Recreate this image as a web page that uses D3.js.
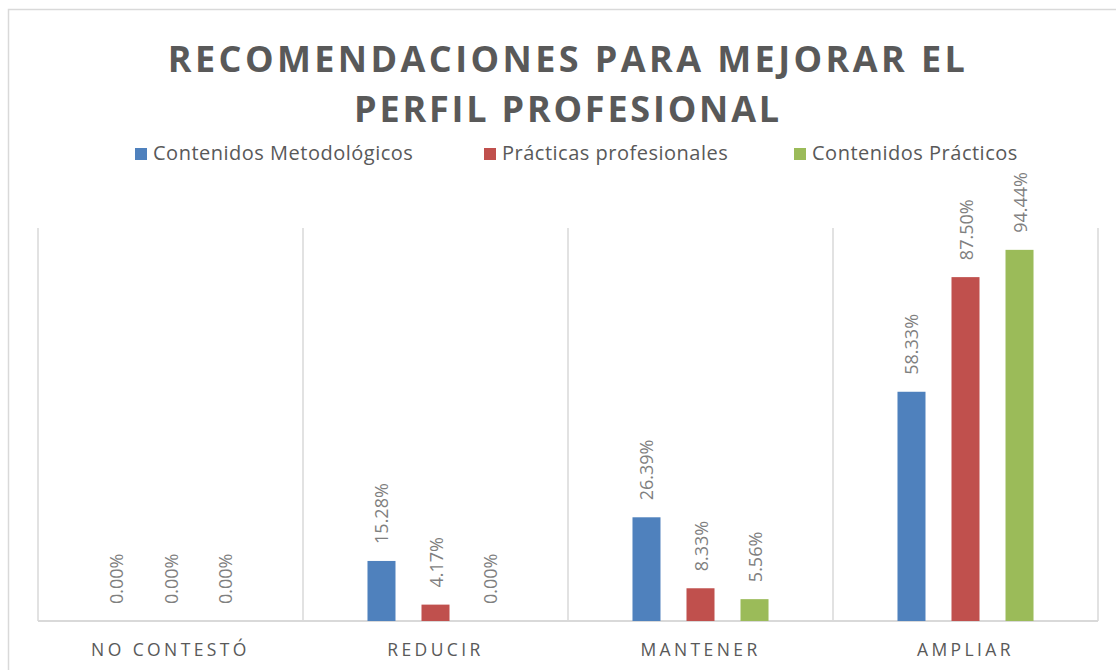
<!DOCTYPE html>
<html>
<head>
<meta charset="utf-8">
<script src="https://cdn.jsdelivr.net/npm/d3@7"></script>
<style>
  html, body { margin: 0; padding: 0; background: #ffffff; }
  svg { display: block; }
</style>
</head>
<body>
<svg id="chart" width="1116" height="670"></svg>
<script>
// ---- data ----
const categories = ["NO CONTESTÓ", "REDUCIR", "MANTENER", "AMPLIAR"];
const seriesNames = ["Contenidos Metodológicos", "Prácticas profesionales", "Contenidos Prácticos"];
const contenidosMetodologicos = [0.00, 15.28, 26.39, 58.33];
const practicasProfesionales = [0.00, 4.17, 8.33, 87.50];
const contenidosPracticos = [0.00, 0.00, 5.56, 94.44];
const seriesColors = ["#4F81BD", "#C0504D", "#9BBB59"];
const titleLines = ["RECOMENDACIONES PARA MEJORAR EL", "PERFIL PROFESIONAL"];

const seriesValues = [contenidosMetodologicos, practicasProfesionales, contenidosPracticos];

// ---- layout ----
const svg = d3.select("#chart");
const plot = { left: 38, right: 1098, top: 228, bottom: 621 };
const font = "'Open Sans', 'Noto Sans', sans-serif";
const textColor = "#595959";
const gridColor = "#D9D9D9";

// chart border
svg.append("rect")
  .attr("x", 8.5).attr("y", 9.5)
  .attr("width", 1200).attr("height", 800)
  .attr("fill", "none")
  .attr("stroke", gridColor)
  .attr("stroke-width", 1.5);

const x0 = d3.scaleBand().domain(categories).range([plot.left, plot.right]).padding(0);
const x1 = d3.scaleBand().domain(seriesNames).range([0, x0.bandwidth()])
  .paddingInner(0.4815).paddingOuter(1.194);
const y = d3.scaleLinear().domain([0, 100]).range([plot.bottom, plot.top]);

// vertical gridlines (category separators)
const sepPositions = categories.map(c => x0(c)).concat([plot.right]);
svg.append("g").selectAll("line").data(sepPositions).join("line")
  .attr("x1", d => d).attr("x2", d => d)
  .attr("y1", y(100)).attr("y2", y(0))
  .attr("stroke", gridColor).attr("stroke-width", 1.5);

// baseline
svg.append("line")
  .attr("x1", plot.left).attr("x2", plot.right)
  .attr("y1", y(0)).attr("y2", y(0))
  .attr("stroke", gridColor).attr("stroke-width", 2);

// bars
const flat = [];
categories.forEach((c, ci) => {
  seriesNames.forEach((s, si) => {
    flat.push({ cat: c, series: s, si: si, value: seriesValues[si][ci] });
  });
});

svg.append("g").selectAll("rect").data(flat.filter(d => d.value > 0)).join("rect")
  .attr("x", d => x0(d.cat) + x1(d.series))
  .attr("y", d => y(d.value))
  .attr("width", x1.bandwidth())
  .attr("height", d => y(0) - y(d.value))
  .attr("fill", d => seriesColors[d.si]);

// data labels
svg.append("g").selectAll("text").data(flat).join("text")
  .attr("transform", d => {
    const cx = x0(d.cat) + x1(d.series) + x1.bandwidth() / 2;
    const cy = y(d.value) - 17;
    return `translate(${cx},${cy}) rotate(-90)`;
  })
  .attr("text-anchor", "start")
  .attr("dominant-baseline", "central")
  .attr("font-family", font)
  .attr("font-size", 18)
  .attr("fill", "#7F7F7F")
  .text(d => d.value.toFixed(2) + "%");

// category labels
svg.append("g").selectAll("text").data(categories).join("text")
  .attr("x", d => x0(d) + x0.bandwidth() / 2)
  .attr("y", 656)
  .attr("text-anchor", "middle")
  .attr("font-family", font)
  .attr("font-size", 17.5)
  .attr("letter-spacing", "3.4px")
  .attr("fill", textColor)
  .text(d => d);

// title
const titleY = [72, 122];
const titleWidths = [797, 425];
titleLines.forEach((t, i) => {
  const el = svg.append("text")
    .attr("x", (plot.left + plot.right) / 2)
    .attr("y", titleY[i])
    .attr("text-anchor", "middle")
    .attr("font-family", font)
    .attr("font-weight", 700)
    .attr("font-size", 36)
    .attr("fill", textColor)
    .text(t);
  const w = el.node().getComputedTextLength();
  const ls = Math.max(0, (titleWidths[i] - w) / (t.length - 1));
  el.attr("letter-spacing", ls + "px");
});

// legend
const legendX = [135, 484, 794];
const legend = svg.append("g").selectAll("g").data(seriesNames).join("g")
  .attr("transform", (d, i) => `translate(${legendX[i]},148)`);
legend.append("rect")
  .attr("width", 12).attr("height", 12)
  .attr("fill", (d, i) => seriesColors[i]);
legend.append("text")
  .attr("x", 18).attr("y", 12)
  .attr("font-family", font)
  .attr("font-size", 20)
  .attr("letter-spacing", "0.5px")
  .attr("fill", textColor)
  .text(d => d);
</script>
</body>
</html>
